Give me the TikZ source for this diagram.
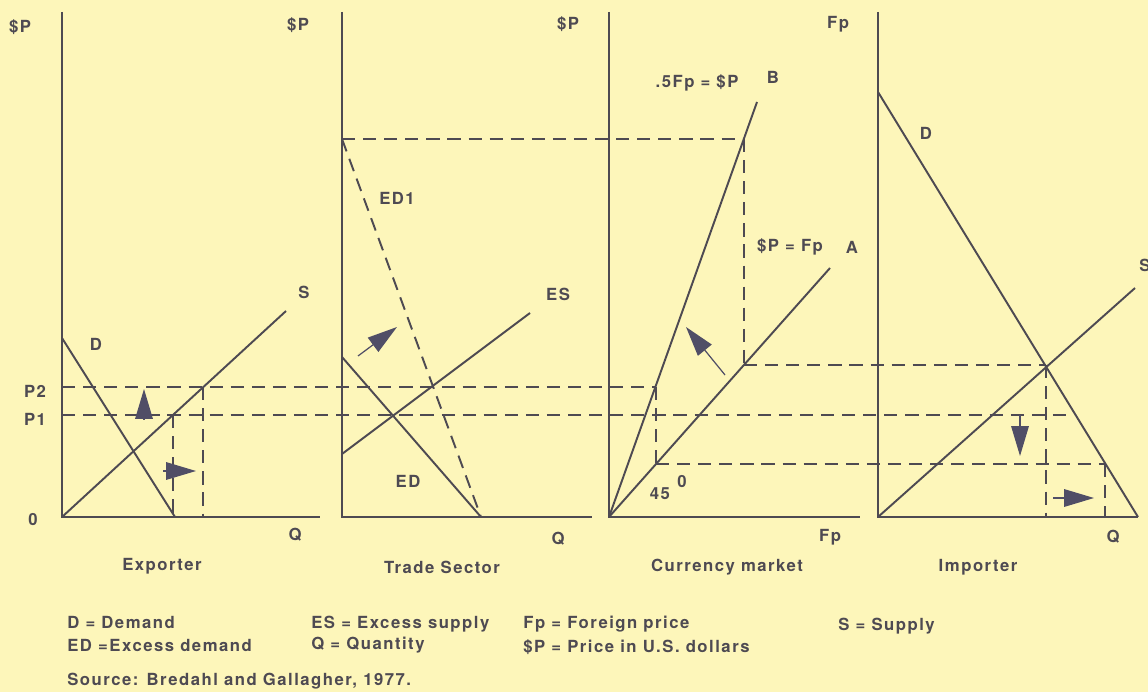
\documentclass[tikz,border=0pt]{standalone}
\usepackage{fontspec}
\setmainfont{TeX Gyre Heros}[LetterSpace=9]
\usepackage{tikz}
\usetikzlibrary{arrows.meta}
\definecolor{paper}{RGB}{253,246,186}
\definecolor{ink}{RGB}{78,74,82}
\definecolor{arrowink}{RGB}{80,78,102}
\tikzset{
  axisline/.style  = {ink,line width=1.5pt},
  curveline/.style = {ink,line width=1.1pt},
  dashline/.style  = {ink,line width=1.1pt,dash pattern=on 7.5pt off 4.5pt},
  bigarr/.style    = {-{Triangle[length=17pt,width=10pt]},arrowink,line width=0.7pt},
  lbl/.style       = {text=ink,font=\bfseries\fontsize{9.5}{11}\selectfont,inner sep=0pt}
}

\begin{document}
\begin{tikzpicture}[x=0.02cm,y=-0.02cm]
  \fill[paper] (0,0) rectangle (1148,692);
  \useasboundingbox (0,0) rectangle (1148,692);

  % exporter
  \coordinate (eO)  at (62,517);
  \coordinate (eS)  at (286,311);
  \coordinate (eDt) at (62,338);
  \coordinate (eDb) at (175,517);
  \coordinate (eP1) at (173,415);
  \coordinate (eP2) at (203,387);
  \draw[axisline] (62,12) -- (eO) -- (320,517);
  \draw[curveline] (eO) -- (eS);
  \draw[curveline] (eDt) -- (eDb);
  \draw[dashline] (eP1) -- (eP1 |- eO);
  \draw[dashline] (eP2) -- (eP2 |- eO);

  % trade sector
  \coordinate (tO)   at (342,517);
  \coordinate (tDt)  at (342,357);
  \coordinate (tDb)  at (481,517);
  \coordinate (tSb)  at (342,454);
  \coordinate (tSt)  at (530,313);
  \coordinate (tD1t) at (342,139);
  \draw[axisline] (342,12) -- (tO) -- (592,517);
  \draw[curveline] (tDt) -- (tDb);
  \draw[curveline] (tSb) -- (tSt);
  \draw[dashline] (tD1t) -- (tDb);

  % currency market
  \coordinate (cO)  at (609,517);
  \coordinate (cB)  at (757,102);
  \coordinate (cA)  at (830,268);
  \coordinate (cBh) at (744,139);
  \coordinate (cAh) at (744,365);
  \coordinate (cBl) at (656,387);
  \coordinate (cAl) at (656,464);
  \draw[axisline] (609,12) -- (cO) -- (860,517);
  \draw[curveline] (cO) -- (cB);
  \draw[curveline] (cO) -- (cA);
  \draw[dashline] (cBh) -- (cAh);
  \draw[dashline] (cBl) -- (cAl);

  % importer
  \coordinate (iO)  at (878,517);
  \coordinate (iDt) at (878,92);
  \coordinate (iDb) at (1138,517);
  \coordinate (iS)  at (1135,288);
  \coordinate (iX)  at (1046,365);
  \coordinate (iQ)  at (1105,464);
  \draw[axisline] (878,12) -- (iO) -- (iDb);
  \draw[curveline] (iDt) -- (iDb);
  \draw[curveline] (iO) -- (iS);
  \draw[dashline] (iX) -- (iX |- iO);
  \draw[dashline] (iQ) -- (iQ |- iO);

  % price levels carried across
  \draw[dashline] (62,415) -- (1066,415);
  \draw[dashline] (62,387) -- (cBl);
  \draw[dashline] (tD1t) -- (cBh);
  \draw[dashline] (cAh) -- (iX);
  \draw[dashline] (cAl) -- (iQ);

  % shifts
  \draw[bigarr] (144,419) -- (144,389);
  \draw[bigarr] (163,471) -- (196,471);
  \draw[bigarr] (358,356) -- (397,327);
  \draw[bigarr] (725,375) -- (686,327);
  \draw[bigarr] (1020,415) -- (1020,456);
  \draw[bigarr] (1053,498) -- (1094,498);

  % labels
  \node[lbl] (eY)   at (20,27)   {\$P};
  \node[lbl] (tY)   at (298,25)  {\$P};
  \node[lbl] (cY)   at (568,24)  {\$P};
  \node[lbl] (iY)   at (838,24)  {Fp};
  \node[lbl] (eSl)  at (304,292) {S};
  \node[lbl] (eDl)  at (96,344)  {D};
  \node[lbl] (eP2l) at (35,391)  {P2};
  \node[lbl] (eP1l) at (35,419)  {P1};
  \node[lbl] (eOl)  at (33,520)  {0};
  \node[lbl] (eQl)  at (295,535) {Q};
  \node[lbl] (eT)   at (162,566) {Exporter};
  \node[lbl] (tD1l) at (397,198) {ED1};
  \node[lbl] (tSl)  at (558,294) {ES};
  \node[lbl] (tDl)  at (408,481) {ED};
  \node[lbl] (tQl)  at (558,539) {Q};
  \node[lbl] (tT)   at (442,567) {Trade Sector};
  \node[lbl] (cBn)  at (697,83)  {.5Fp = \$P};
  \node[lbl] (cBm)  at (773,77)  {B};
  \node[lbl] (cAn)  at (790,247) {\$P = Fp};
  \node[lbl] (cAm)  at (852,247) {A};
  \node[lbl] (cDeg) at (660,494) {45};
  \node[lbl] (cSup) at (682,482) {0};
  \node[lbl] (cQl)  at (830,537) {Fp};
  \node[lbl] (cT)   at (727,567) {Currency market};
  \node[lbl] (iDl)  at (926,133) {D};
  \node[lbl] (iSl)  at (1145,265) {S};
  \node[lbl] (iQl)  at (1113,537) {Q};
  \node[lbl] (iT)   at (978,567) {Importer};

  % legend
  \node[lbl,anchor=west] (k1) at (67,622)  {D = Demand};
  \node[lbl,anchor=west] (k2) at (67,645)  {ED =Excess demand};
  \node[lbl,anchor=west] (k3) at (311,624) {ES = Excess supply};
  \node[lbl,anchor=west] (k4) at (311,645) {Q = Quantity};
  \node[lbl,anchor=west] (k5) at (523,624) {Fp = Foreign price};
  \node[lbl,anchor=west] (k6) at (523,647) {\$P = Price in U.S. dollars};
  \node[lbl,anchor=west] (k7) at (838,626) {S = Supply};
  \node[lbl,anchor=west] (src) at (67,681) {Source: Bredahl and Gallagher, 1977.};
\end{tikzpicture}
\end{document}
